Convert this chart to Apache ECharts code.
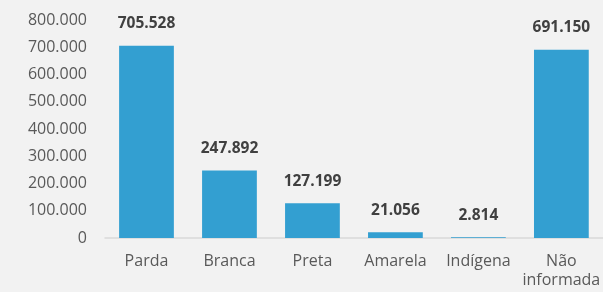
<!DOCTYPE html>
<html>
<head>
<meta charset="utf-8">
<script src="https://cdn.jsdelivr.net/npm/echarts@6/dist/echarts.min.js"></script>
<style>
  html, body { margin: 0; padding: 0; background: #F2F2F2; }
  #chart { width: 603px; height: 292px; }
</style>
</head>
<body>
<div id="chart"></div>
<script>
const categories = ['Parda', 'Branca', 'Preta', 'Amarela', 'Indígena', 'Não\ninformada'];
const values = [705528, 247892, 127199, 21056, 2814, 691150];

// 705528 -> "705.528"
function fmt(v) {
  return String(v).replace(/\B(?=(\d{3})+(?!\d))/g, '.');
}

const chart = echarts.init(document.getElementById('chart'), null, { renderer: 'canvas' });

const option = {
  backgroundColor: '#F2F2F2',
  animation: false,
  grid: {
    top: 20,
    left: 105,
    right: -3,
    bottom: 54
  },
  xAxis: {
    type: 'category',
    data: categories,
    axisTick: { show: false },
    axisLine: { lineStyle: { color: '#D9D9D9', width: 1.5 } },
    axisLabel: {
      interval: 0,
      margin: 14,
      color: '#595959',
      fontFamily: 'Open Sans',
      fontSize: 16,
      lineHeight: 19
    }
  },
  yAxis: {
    type: 'value',
    min: 0,
    max: 800000,
    interval: 100000,
    splitLine: { show: false },
    axisLine: { show: false },
    axisTick: { show: false },
    axisLabel: {
      margin: 18,
      color: '#595959',
      fontFamily: 'Open Sans',
      fontSize: 16,
      formatter: fmt
    }
  },
  series: [{
    type: 'bar',
    data: values,
    barCategoryGap: '34%',
    itemStyle: { color: '#339FD1' },
    label: {
      show: true,
      position: 'top',
      distance: 14,
      color: '#404040',
      fontFamily: 'Open Sans',
      fontWeight: 'bold',
      fontSize: 15.5,
      formatter: function (p) { return fmt(p.value); }
    }
  }]
};

chart.setOption(option);
</script>
</body>
</html>
